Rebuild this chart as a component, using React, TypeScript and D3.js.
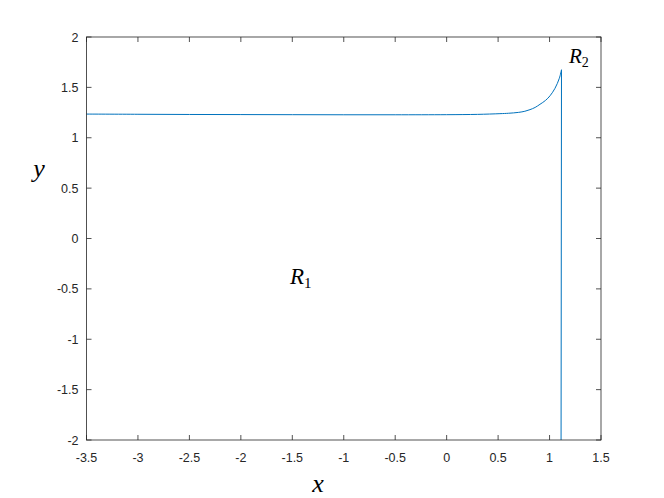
import React from "react";
import * as d3 from "d3";

const curveX = [-3.5, -3.0, -2.5, -2.0, -1.5, -1.0, -0.5, 0.0, 0.3, 0.518, 0.6, 0.7, 0.76, 0.81, 0.86, 0.907, 0.96, 1.005, 1.053, 1.095, 1.116, 1.112];
const curveY = [1.235, 1.233, 1.231, 1.23, 1.229, 1.228, 1.228, 1.229, 1.232, 1.239, 1.243, 1.252, 1.263, 1.279, 1.301, 1.332, 1.37, 1.417, 1.491, 1.59, 1.675, -2.0];
const xTicks = [-3.5, -3, -2.5, -2, -1.5, -1, -0.5, 0, 0.5, 1, 1.5];
const yTicks = [-2, -1.5, -1, -0.5, 0, 0.5, 1, 1.5, 2];

const W = 664, H = 498;
const L = 86.5, R = 601, T = 37, B = 440;

export default function App() {
  const x = d3.scaleLinear().domain([-3.5, 1.5]).range([L, R]);
  const y = d3.scaleLinear().domain([-2, 2]).range([B, T]);
  const pts = curveX.map((v, i) => [v, curveY[i]] as [number, number]);
  const n = pts.length;
  const line = d3.line<[number, number]>().x(d => x(d[0])).y(d => y(d[1])).curve(d3.curveCatmullRom.alpha(0.5));
  const flat = pts.slice(0, n - 1);
  const drop = pts.slice(n - 2);
  const lineStraight = d3.line<[number, number]>().x(d => x(d[0])).y(d => y(d[1]));
  const axisColor = "#262626";
  const tickFont = "'Liberation Sans', Arial, sans-serif";
  const mathFont = "'Liberation Serif', 'DejaVu Serif', serif";
  return (
    <svg width={W} height={H} style={{ position: "absolute", left: 0, top: 0, background: "#fff" }}>
      <rect x={0} y={0} width={W} height={H} fill="#fff" />
      <path d={line(flat) || ""} fill="none" stroke="#0072BD" strokeWidth={1} />
      <path d={lineStraight(drop) || ""} fill="none" stroke="#0072BD" strokeWidth={1} />
      <rect x={L} y={T} width={R - L} height={B - T} fill="none" stroke={axisColor} strokeWidth={0.8} />
      {xTicks.map(t => (
        <g key={"x" + t}>
          <line x1={x(t)} x2={x(t)} y1={B} y2={B - 5} stroke={axisColor} strokeWidth={0.8} />
          <line x1={x(t)} x2={x(t)} y1={T} y2={T + 5} stroke={axisColor} strokeWidth={0.8} />
          <text x={x(t)} y={B + 22} textAnchor="middle" fontFamily={tickFont} fontSize={12.5} fill={axisColor}>{String(t)}</text>
        </g>
      ))}
      {yTicks.map(t => (
        <g key={"y" + t}>
          <line x1={L} x2={L + 5} y1={y(t)} y2={y(t)} stroke={axisColor} strokeWidth={0.8} />
          <line x1={R} x2={R - 5} y1={y(t)} y2={y(t)} stroke={axisColor} strokeWidth={0.8} />
          <text x={L - 8} y={y(t) + 4.5} textAnchor="end" fontFamily={tickFont} fontSize={12.5} fill={axisColor}>{String(t)}</text>
        </g>
      ))}
      <text x={318} y={492} textAnchor="middle" fontFamily={mathFont} fontStyle="italic" fontSize={26}>x</text>
      <text x={39} y={177} textAnchor="middle" fontFamily={mathFont} fontStyle="italic" fontSize={26}>y</text>
      <text x={290} y={284} fontFamily={mathFont} fontSize={23}>
        <tspan fontStyle="italic">R</tspan><tspan fontSize={15} dy={4}>1</tspan>
      </text>
      <text x={569} y={63} fontFamily={mathFont} fontSize={21}>
        <tspan fontStyle="italic">R</tspan><tspan fontSize={14} dy={4}>2</tspan>
      </text>
    </svg>
  );
}
